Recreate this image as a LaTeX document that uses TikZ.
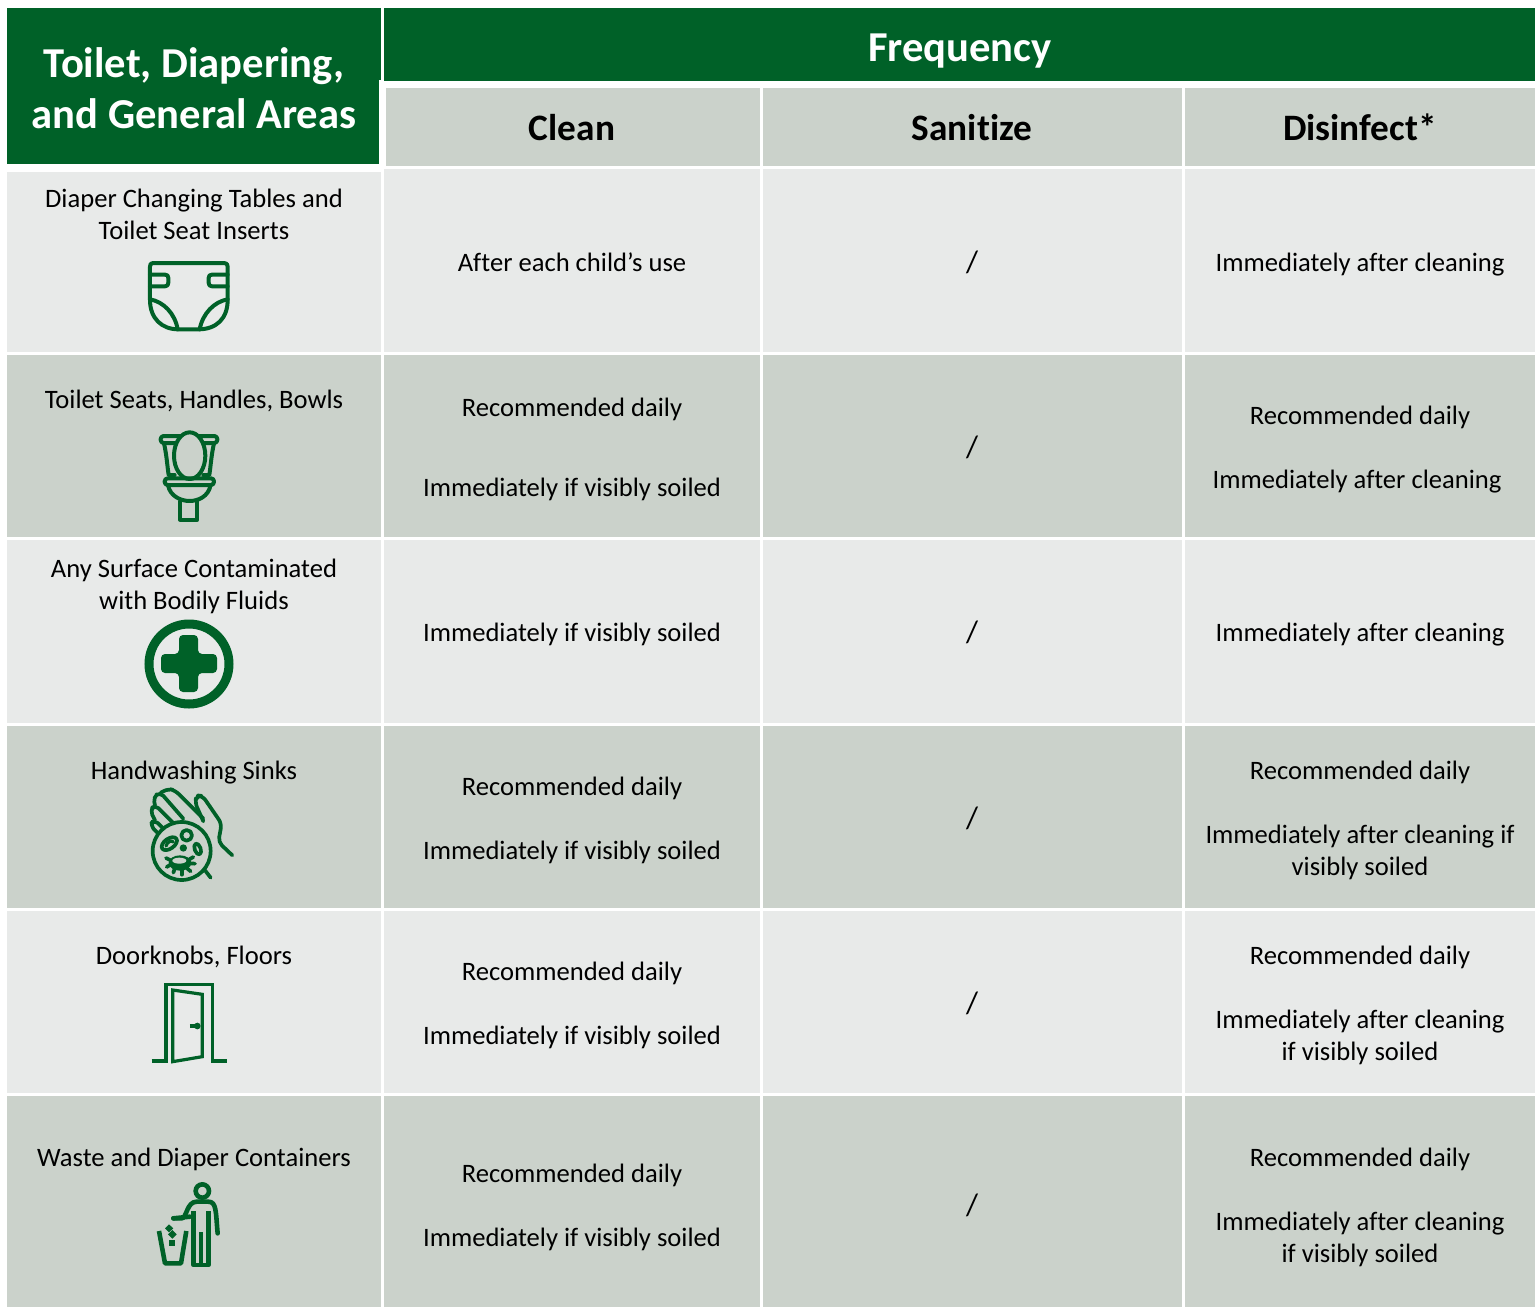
\documentclass[tikz,border=0pt]{standalone}
\usepackage{fontspec}
\setmainfont{Carlito}[RawFeature={-liga}]
\definecolor{hgreen}{RGB}{0,97,40}
\definecolor{midgray}{RGB}{203,210,203}
\definecolor{lightgray}{RGB}{232,234,233}
\tikzset{
  cellbox/.style={inner sep=0pt,outer sep=0pt,draw=none,rectangle},
  body/.style={anchor=base,inner sep=0pt,yshift=-1.2pt,font=\fontsize{26.6}{26}\selectfont,text=black},
  slashmark/.style={anchor=base,inner sep=0pt,yshift=-1.2pt,font=\fontsize{31}{31}\selectfont,text=black},
  colhead/.style={anchor=base,inner sep=0pt,yshift=-1pt,font=\fontsize{37.3}{37}\selectfont\bfseries,text=black},
  title/.style={anchor=base,inner sep=0pt,yshift=-1pt,font=\fontsize{42.6}{42}\selectfont\bfseries,text=white},
  icon/.style={draw=hgreen,line width=4pt,line join=round,line cap=round},
  thinicon/.style={draw=hgreen,line width=3.2pt,line join=round,line cap=round},
  handicon/.style={draw=hgreen,line width=3.7pt,line join=round,line cap=round},
  heavyicon/.style={draw=hgreen,line width=4.6pt,line join=round,line cap=round},
}
\newcommand{\Cell}[6]{\node[cellbox,fill=#6,minimum width={(#4-#2)*1pt},minimum height={(#5-#3)*1pt}] (#1) at ({(#2+#4)/2},{(#3+#5)/2}) {};}
\begin{document}
\begin{tikzpicture}[x=1pt,y=-1pt]
\useasboundingbox (0,0) rectangle (1539,1307);
% headers
\Cell{hleftA}{7}{8}{381}{80}{hgreen}
\Cell{hleftB}{7}{80}{379}{164}{hgreen}
\Cell{hfreq}{384}{8}{1535}{81}{hgreen}
\Cell{hclean}{386}{88}{760}{166}{midgray}
\Cell{hsan}{763}{88}{1182}{166}{midgray}
\Cell{hdis}{1185}{88}{1535}{166}{midgray}
% rows
\Cell{ra}{7}{172}{381}{352}{lightgray}
\Cell{rb}{384}{169}{760}{352}{lightgray}
\Cell{rc}{763}{169}{1182}{352}{lightgray}
\Cell{rd}{1185}{169}{1535}{352}{lightgray}
\Cell{sa}{7}{355}{381}{537}{midgray}
\Cell{sb}{384}{355}{760}{537}{midgray}
\Cell{sc}{763}{355}{1182}{537}{midgray}
\Cell{sd}{1185}{355}{1535}{537}{midgray}
\Cell{ta}{7}{540}{381}{723}{lightgray}
\Cell{tb}{384}{540}{760}{723}{lightgray}
\Cell{tc}{763}{540}{1182}{723}{lightgray}
\Cell{td}{1185}{540}{1535}{723}{lightgray}
\Cell{ua}{7}{726}{381}{908}{midgray}
\Cell{ub}{384}{726}{760}{908}{midgray}
\Cell{uc}{763}{726}{1182}{908}{midgray}
\Cell{ud}{1185}{726}{1535}{908}{midgray}
\Cell{va}{7}{911}{381}{1093}{lightgray}
\Cell{vb}{384}{911}{760}{1093}{lightgray}
\Cell{vc}{763}{911}{1182}{1093}{lightgray}
\Cell{vd}{1185}{911}{1535}{1093}{lightgray}
\Cell{wa}{7}{1096}{381}{1307}{midgray}
\Cell{wb}{384}{1096}{760}{1307}{midgray}
\Cell{wc}{763}{1096}{1182}{1307}{midgray}
\Cell{wd}{1185}{1096}{1535}{1307}{midgray}
% header text
\node[title] (t1) at (194,76) {Toilet, Diapering,};
\node[title] (t2) at (194,127) {and General Areas};
\node[title] (t3) at (960,60) {Frequency};
\node[colhead] (c1) at (572,139) {Clean};
\node[colhead] (c2) at (972,139) {Sanitize};
\node[colhead] (c3) at (1360,139) {Disinfect*};
% first column
\node[body] (a1) at (194,206) {Diaper Changing Tables and};
\node[body] (a2) at (194,238) {Toilet Seat Inserts};
\node[body] (a3) at (194,407) {Toilet Seats, Handles, Bowls};
\node[body] (a4) at (194,576) {Any Surface Contaminated};
\node[body] (a5) at (194,608) {with Bodily Fluids};
\node[body] (a6) at (194,778) {Handwashing Sinks};
\node[body] (a7) at (194,963) {Doorknobs, Floors};
\node[body] (a8) at (194,1165) {Waste and Diaper Containers};
% clean
\node[body] (b1) at (572,270) {After each child’s use};
\node[body] (b2) at (572,415) {Recommended daily};
\node[body] (b3) at (572,495) {Immediately if visibly soiled};
\node[body] (b4) at (572,640) {Immediately if visibly soiled};
\node[body] (b5) at (572,794) {Recommended daily};
\node[body] (b6) at (572,858) {Immediately if visibly soiled};
\node[body] (b7) at (572,979) {Recommended daily};
\node[body] (b8) at (572,1043) {Immediately if visibly soiled};
\node[body] (b9) at (572,1181) {Recommended daily};
\node[body] (b10) at (572,1245) {Immediately if visibly soiled};
% sanitize
\node[slashmark] (s1) at (972,271) {/};
\node[slashmark] (s2) at (972,456) {/};
\node[slashmark] (s3) at (972,641) {/};
\node[slashmark] (s4) at (972,827) {/};
\node[slashmark] (s5) at (972,1012) {/};
\node[slashmark] (s6) at (972,1214) {/};
% disinfect
\node[body] (d1) at (1360,270) {Immediately after cleaning};
\node[body] (d2) at (1360,423) {Recommended daily};
\node[body] (d3) at (1357,487) {Immediately after cleaning};
\node[body] (d4) at (1360,640) {Immediately after cleaning};
\node[body] (d5) at (1360,778) {Recommended daily};
\node[body] (d6) at (1360,842) {Immediately after cleaning if};
\node[body] (d7) at (1360,874) {visibly soiled};
\node[body] (d8) at (1360,963) {Recommended daily};
\node[body] (d9) at (1360,1027) {Immediately after cleaning};
\node[body] (d10) at (1360,1059) {if visibly soiled};
\node[body] (d11) at (1360,1165) {Recommended daily};
\node[body] (d12) at (1360,1229) {Immediately after cleaning};
\node[body] (d13) at (1360,1261) {if visibly soiled};
% diaper icon
\begin{scope}[shift={(130,250)},x=0.3333pt,y=-0.3333pt]
\draw[icon] (60,150) -- (60,50) .. controls (60,42) and (62,39) .. (70,39) -- (282,39) .. controls (290,39) and (293,42) .. (293,50) -- (293,150) .. controls (293,205) and (260,238) .. (205,238) -- (145,238) .. controls (95,238) and (60,205) .. (60,150) -- cycle;
\draw[icon] (60,74) -- (105,74) .. controls (112,74) and (115,77) .. (115,84) -- (115,98) .. controls (115,105) and (112,109) .. (105,109) -- (60,109);
\draw[icon] (293,74) -- (246,74) .. controls (239,74) and (236,77) .. (236,84) -- (236,98) .. controls (236,105) and (239,109) .. (246,109) -- (293,109);
\draw[icon] (60,148) .. controls (100,155) and (135,190) .. (143,238);
\draw[icon] (293,148) .. controls (253,155) and (218,190) .. (209,238);
\end{scope}
% toilet icon
\begin{scope}[shift={(140,425)},x=0.3333pt,y=-0.3333pt]
\draw[icon] (72,55) .. controls (80,90) and (82,125) .. (86,150) -- (104,150);
\draw[icon] (222,55) .. controls (214,90) and (212,125) .. (208,150) -- (190,150);
\draw[icon,rounded corners=3pt] (62,33) rectangle (232,54);
\draw[icon,fill=midgray] (149,92) ellipse [x radius=47,y radius=70];
\draw[icon,rounded corners=3pt] (74,160) rectangle (222,180);
\draw[icon] (84,180) .. controls (90,215) and (125,228) .. (148,228) .. controls (175,228) and (205,215) .. (212,180);
\draw[icon] (120,230) -- (120,284) -- (172,284) -- (172,230);
\end{scope}
% medical cross icon
\draw[draw=hgreen,line width=9pt] (189,664) circle [radius=40];
\fill[hgreen,rounded corners=4pt] (179,635) -- (198,635) -- (198,654) -- (217,654) -- (217,673) -- (198,673) -- (198,692) -- (179,692) -- (179,673) -- (161,673) -- (161,654) -- (179,654) -- cycle;
% hand icon
\begin{scope}[shift={(140,782)},x=0.3333pt,y=-0.3333pt]
\draw[handicon,rounded corners=5pt] (55,155) -- (30,130) -- (42,112) -- (78,148);
\draw[handicon,rounded corners=5pt] (45,115) -- (30,85) -- (45,68) -- (105,128);
\draw[handicon,rounded corners=5pt] (45,70) -- (40,45) -- (60,30) -- (130,110);
\draw[handicon,rounded corners=5pt] (62,32) -- (85,20) -- (105,25) -- (190,110);
\draw[handicon,rounded corners=5pt] (190,118) -- (165,62) -- (170,40) -- (188,42) -- (245,125) -- (235,180) -- (277,220);
\draw[handicon,fill=midgray] (125,207) circle [radius=87];
\draw[handicon] (88,185) ellipse [x radius=26,y radius=15,rotate=35];
\draw[thinicon] (78,192) .. controls (82,178) and (95,174) .. (100,180);
\draw[handicon] (140,160) circle [radius=16];
\fill[hgreen] (130,198) circle [radius=11];
\draw[handicon] (173,201) ellipse [x radius=9,y radius=17,rotate=20];
\fill[hgreen] (120,243) ellipse [x radius=34,y radius=23];
\fill[midgray] (118,236) ellipse [x radius=21,y radius=9];
\foreach \a/\b/\c/\d in {78/228/90/234,160/225/148/232,165/245/150/244,152/268/140/258,125/278/125/265,100/272/104/260,80/255/92/248}
  \draw[handicon] (\a,\b) -- (\c,\d);
\draw[handicon] (195,265) -- (212,287);
\end{scope}
% door icon
\begin{scope}[shift={(140,975)},x=0.3333pt,y=-0.3333pt]
\draw[thinicon,line cap=butt,line join=miter] (35,258) -- (78,258) -- (78,28) -- (218,28) -- (218,258) -- (262,258);
\draw[thinicon,line join=miter] (98,45) -- (187,58) -- (187,245) -- (98,260) -- cycle;
\draw[thinicon,line cap=butt] (150,153) -- (178,153);
\fill[hgreen] (172,153) circle [radius=10];
\end{scope}
% waste icon
\begin{scope}[shift={(145,1175)},x=0.3333pt,y=-0.3333pt]
\draw[heavyicon] (172,48) circle [radius=20];
\draw[heavyicon] (85,130) -- (110,130) .. controls (125,130) and (125,80) .. (155,80) -- (190,80) .. controls (215,80) and (212,110) .. (218,175);
\draw[heavyicon,line cap=butt] (146,108) -- (146,270) -- (190,270) -- (190,108);
\draw[heavyicon,line cap=butt] (168,172) -- (168,270);
\draw[heavyicon] (85,130) -- (135,125);
\draw[heavyicon,line cap=butt] (42,168) -- (60,265) -- (108,265) -- (124,168);
\fill[hgreen] (72,148) -- (85,160) -- (72,172) -- (60,160) -- cycle;
\fill[hgreen] (82,165) -- (95,178) -- (82,191) -- (69,178) -- cycle;
\fill[hgreen] (71,195) rectangle (89,212);
\end{scope}
\end{tikzpicture}
\end{document}
